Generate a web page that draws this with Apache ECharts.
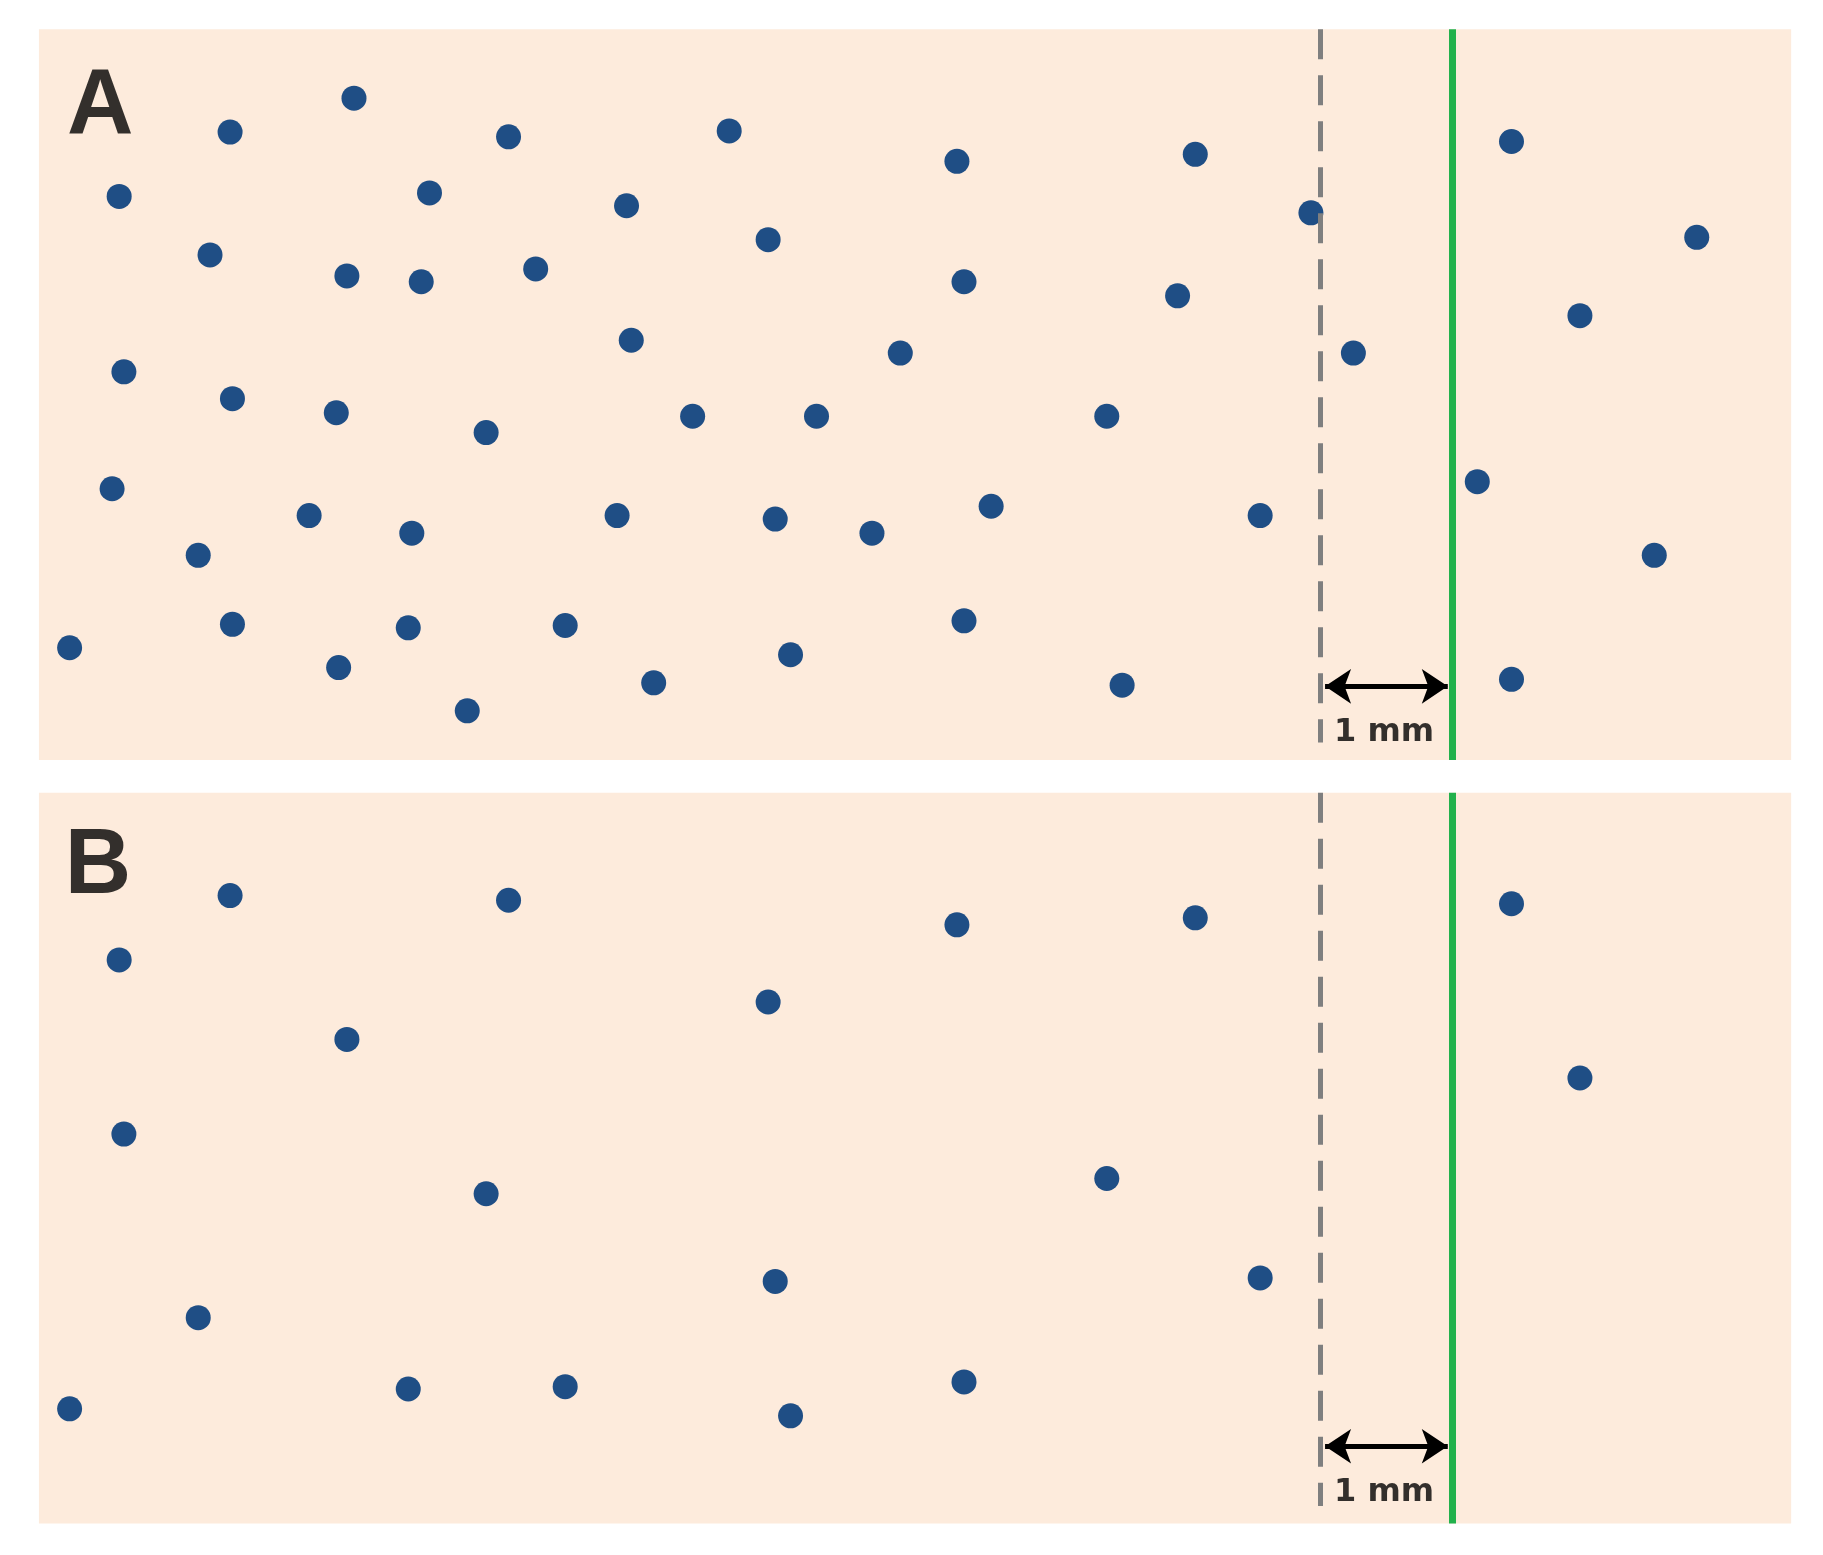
<!DOCTYPE html>
<html>
<head>
<meta charset="utf-8" />
<title>Particles near boundary</title>
<script src="https://cdn.jsdelivr.net/npm/echarts@6/dist/echarts.min.js"></script>
<style>html,body{margin:0;padding:0;background:#fff}</style>
</head>
<body>
<div id="main" style="width:1823px;height:1555px;"></div>
<script>
// coordinates in a 1545 x 1330 reference frame
var panelA = [[33, 25], [1518, 650]];
var panelB = [[33, 678], [1518, 1303]];
var dashedX = 1119;
var greenX = 1231;
var pointsA = [
  [195,113],[300,84],[431,117],[618,112],[811,138],[1013,132],[1281,121],
  [101,168],[364,165],[531,176],[1111,182],[1438,203],
  [178,218],[294,236],[357,241],[454,230],[651,205],[817,241],[998,253],[1339,270],
  [535,291],[763,302],[1147,302],
  [105,318],[197,341],[285,353],[412,370],[587,356],[692,356],[938,356],
  [95,418],[1252,412],
  [262,441],[349,456],[523,441],[657,444],[739,456],[840,433],[1068,441],
  [168,475],[1402,475],
  [59,554],[197,534],[346,537],[479,535],[817,531],
  [287,571],[554,584],[670,560],[951,586],[1281,581],
  [396,608]
];
var pointsB = [
  [195,766],[431,770],[811,791],[1013,785],[1281,773],
  [101,821],[651,857],[294,889],[1339,922],
  [105,970],[412,1021],[938,1008],
  [657,1096],[1068,1093],[168,1127],
  [59,1205],[346,1188],[479,1186],[670,1211],[817,1182]
];
var panelLabels = [['A', 85, 92], ['B', 83, 742]];
var arrowY = [587, 1237];
var mmLabels = [['1 mm', 1173, 627], ['1 mm', 1173, 1277]];

var myChart = echarts.init(document.getElementById('main'));

var lines = [];
[panelA, panelB].forEach(function (p, i) {
  lines.push([{coord: [dashedX, p[0][1]], lineStyle: {color: '#7f7f7f', type: [30, 16], width: 5}},
              {coord: [dashedX, p[1][1] - 15]}]);
  lines.push([{coord: [greenX, p[0][1]], lineStyle: {color: '#22b14c', type: 'solid', width: 7}},
              {coord: [greenX, p[1][1]]}]);
  lines.push([{coord: [dashedX + 4, arrowY[i]], symbol: 'arrow', lineStyle: {color: '#000', type: 'solid', width: 5}},
              {coord: [greenX - 4, arrowY[i]], symbol: 'arrow'}]);
});

var option = {
  animation: false,
  grid: {left: 0, right: 0, top: 0, bottom: 0},
  xAxis: {type: 'value', min: 0, max: 1545, show: false},
  yAxis: {type: 'value', min: 0, max: 1330, inverse: true, show: false},
  series: [
    {
      type: 'scatter',
      data: pointsA.concat(pointsB),
      symbolSize: 25,
      itemStyle: {color: '#1f4e85', opacity: 1},
      markArea: {
        silent: true,
        itemStyle: {color: '#fdebdc', opacity: 1},
        data: [
          [{coord: panelA[0]}, {coord: panelA[1]}],
          [{coord: panelB[0]}, {coord: panelB[1]}]
        ]
      },
      markLine: {
        silent: true,
        symbol: 'none',
        symbolSize: 26,
        label: {show: false},
        data: lines
      }
    },
    {
      type: 'scatter',
      symbolSize: 0,
      data: panelLabels.map(function (d) { return {value: [d[1], d[2]], name: d[0]}; }),
      label: {show: true, position: 'inside', formatter: '{b}', color: '#000', textBorderWidth: 0,
              fontSize: 92, fontWeight: 'bold', fontFamily: 'Liberation Sans'}
    },
    {
      type: 'scatter',
      symbolSize: 0,
      data: mmLabels.map(function (d) { return {value: [d[1], d[2]], name: d[0]}; }),
      label: {show: true, position: 'inside', formatter: '{b}', color: '#000', textBorderWidth: 0,
              fontSize: 32, fontWeight: 'bold', fontFamily: 'DejaVu Sans'}
    }
  ]
};
myChart.setOption(option);
</script>
</body>
</html>
